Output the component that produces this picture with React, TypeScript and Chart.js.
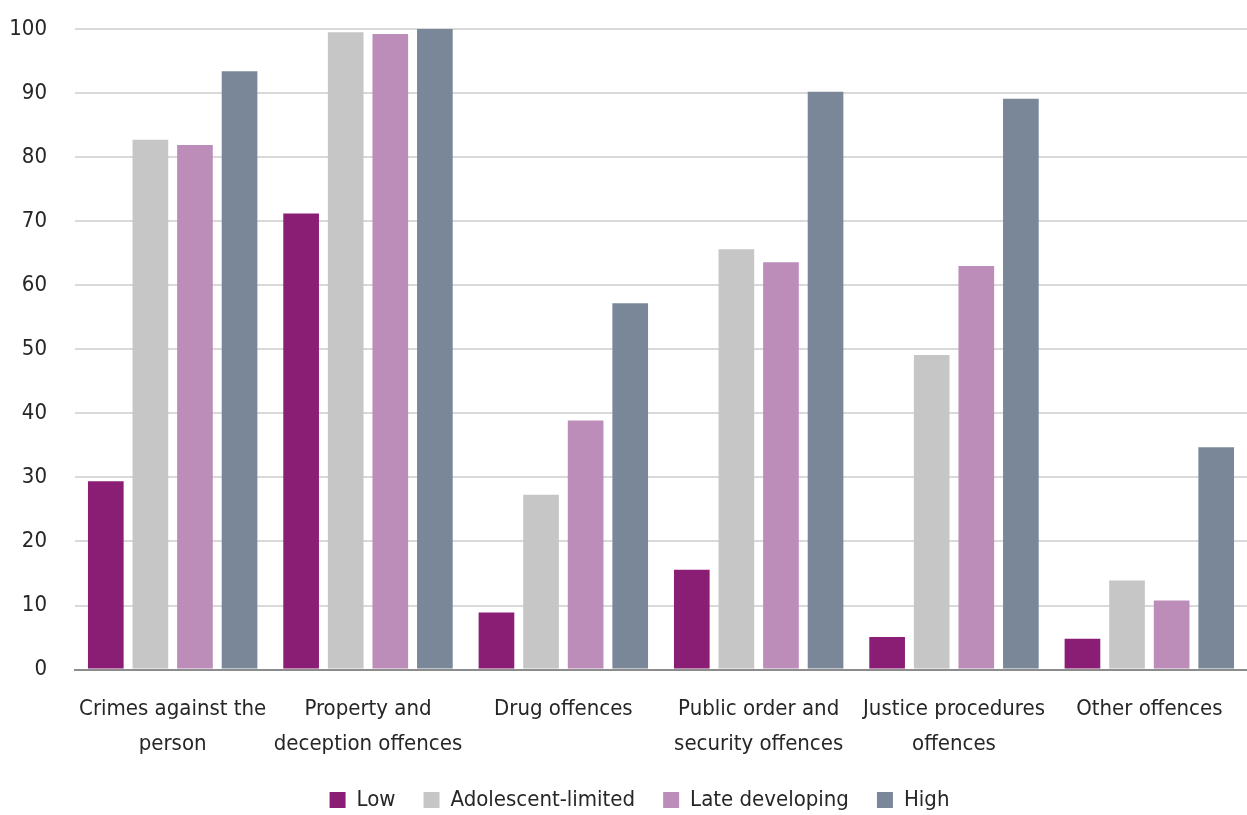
import React, { useEffect, useRef } from "react";
import { Chart, registerables } from "chart.js";

Chart.register(...registerables);

const categories: string[][] = [
  ["Crimes against the", "person"],
  ["Property and", "deception offences"],
  ["Drug offences"],
  ["Public order and", "security offences"],
  ["Justice procedures", "offences"],
  ["Other offences"],
];

const seriesNames = ["Low", "Adolescent-limited", "Late developing", "High"];
const lowValues = [29.4, 71.2, 8.9, 15.6, 5.1, 4.8];
const adolescentValues = [82.7, 99.5, 27.3, 65.6, 49.1, 13.9];
const lateValues = [81.9, 99.2, 38.9, 63.6, 63.0, 10.8];
const highValues = [93.4, 100, 57.2, 90.2, 89.1, 34.7];
const yTicks = [0, 10, 20, 30, 40, 50, 60, 70, 80, 90, 100];

const colors = ["#8A1E74", "#C5C6C5", "#BD8DBA", "#798799"];
const FONT = "'DejaVu Sans Condensed', 'Liberation Sans Narrow', 'Roboto', sans-serif";

const legendShift = {
  id: "legendShift",
  afterLayout(chart: any) {
    if (chart.legend) {
      chart.legend.left += 16;
      chart.legend.right += 16;
    }
  },
};

export default function App() {
  const ref = useRef<HTMLCanvasElement | null>(null);
  useEffect(() => {
    if (!ref.current) return;
    const values = [lowValues, adolescentValues, lateValues, highValues];
    const chart = new Chart(ref.current, {
      type: "bar",
      data: {
        labels: categories,
        datasets: seriesNames.map((name, i) => ({
          label: name,
          data: values[i],
          backgroundColor: colors[i],
          borderWidth: 0,
          categoryPercentage: 0.913,
          barPercentage: 0.8,
        })),
      },
      plugins: [legendShift],
      options: {
        animation: false,
        responsive: true,
        maintainAspectRatio: false,
        layout: { padding: { top: 29, left: 0, right: 0, bottom: 0 } },
        plugins: {
          tooltip: { enabled: false },
          legend: {
            position: "bottom",
            maxHeight: 54,
            labels: {
              boxWidth: 16,
              boxHeight: 16,
              padding: 28,
              color: "#262626",
              font: { family: FONT, size: 22 },
            },
          },
        },
        scales: {
          x: {
            grid: { display: false },
            border: { display: true, color: "#8c8c8c", width: 2 },
            afterFit: (s: any) => {
              s.height -= 15;
              s.paddingTop = 0;
            },
            ticks: {
              color: "#262626",
              font: { family: FONT, size: 22, lineHeight: 1.6 },
              padding: 14,
              maxRotation: 0,
              autoSkip: false,
            },
          },
          y: {
            min: 0,
            max: 100,
            afterBuildTicks: (axis: any) => {
              axis.ticks = yTicks.map((v) => ({ value: v }));
            },
            afterFit: (s: any) => {
              s.width = 75;
              s.paddingTop = 0;
            },
            grid: { color: "#d9d9d9", lineWidth: 2, drawTicks: false },
            border: { display: false },
            ticks: {
              color: "#262626",
              font: { family: FONT, size: 22 },
              padding: 28,
            },
          },
        },
      },
    });
    return () => chart.destroy();
  }, []);
  return (
    <div style={{ position: "absolute", left: 0, top: 0, width: 1247, height: 815, background: "#fff" }}>
      <canvas ref={ref} />
    </div>
  );
}
